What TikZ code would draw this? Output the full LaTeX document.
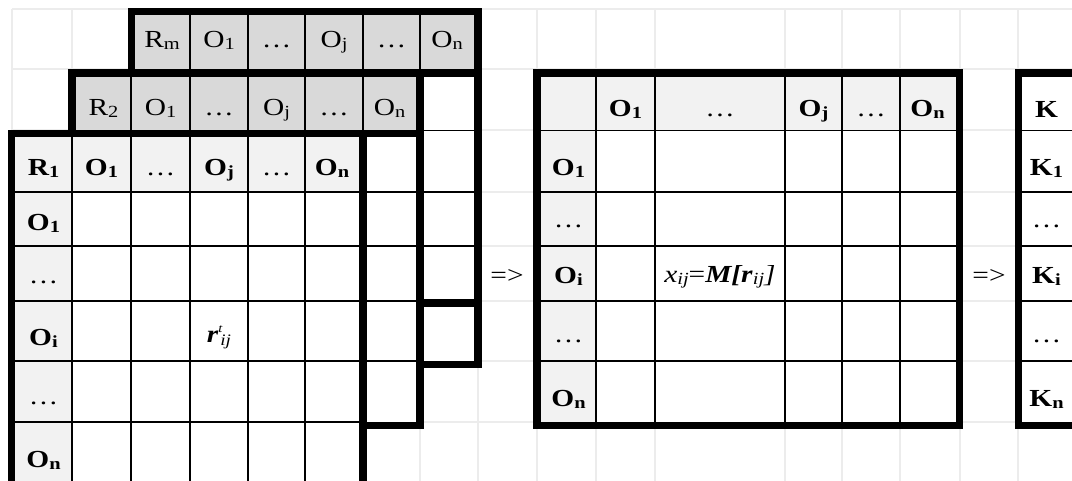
\documentclass[tikz,border=0pt]{standalone}
\usepackage{fontspec}
\setmainfont{Liberation Serif}[FakeStretch=1.2]
\definecolor{darkg}{RGB}{217,217,217}
\definecolor{lightg}{RGB}{242,242,242}
\definecolor{gridc}{RGB}{236,236,236}
\newcommand\sbx[1]{\raisebox{-2.5pt}{\fontsize{17}{19}\selectfont #1}}
\newcommand\dts{{\mdseries …}}
\begin{document}
\begin{tikzpicture}[x=1pt,y=-1pt,
  gridl/.style={draw=gridc,line width=1.4pt},
  thinl/.style={draw=black,line width=1.6pt},
  thickl/.style={draw=black,line width=7.5pt,line cap=rect,line join=miter},
  lbl/.style={anchor=base,inner sep=0pt,font=\fontsize{24.5}{28}\selectfont},
  blbl/.style={anchor=base,inner sep=0pt,font=\fontsize{24.5}{28}\selectfont\bfseries}]
\useasboundingbox (0,0) rectangle (1072,480);
\clip (0,0) rectangle (1072,480);
\fill[white] (0,0) rectangle (1072,480);
% background grid
\foreach \x in {12,72,131,190,248,305,363,420,478,537,596,655,785,842,900,960,1018}
  \draw[gridl] (\x,9) -- (\x,482);
\foreach \y in {9,69,130,192,246,301,361,422}
  \draw[gridl] (12,\y) -- (1074,\y);
% ---------- table Rm ----------
\fill[darkg] (131.5,11.5) rectangle (478,73);
\fill[white] (420,73) rectangle (478,364.5);
\foreach \x in {190,248,305,363,420} \draw[thinl] (\x,11.5) -- (\x,73);
\foreach \y in {130.5,192,246} \draw[thinl] (420,\y) -- (478,\y);
\draw[thickl] (131.5,11.5) rectangle (478,73);
\draw[thickl] (478,73) -- (478,364.5);
\draw[thickl] (420,303) -- (478,303);
\draw[thickl] (420,364.5) -- (478,364.5);
% ---------- table R2 ----------
\fill[white] (72,73) rectangle (420,425.5);
\fill[darkg] (72,73) rectangle (420,133.5);
\foreach \x in {131,190,248,305,363} \draw[thinl] (\x,73) -- (\x,133.5);
\foreach \y in {192,246,301,361} \draw[thinl] (363,\y) -- (420,\y);
\draw[thickl] (72,73) rectangle (420,425.5);
\draw[thickl] (72,133.5) -- (420,133.5);
% ---------- table R1 ----------
\fill[white] (11.5,133.5) rectangle (363,490);
\fill[lightg] (11.5,133.5) rectangle (363,192);
\fill[lightg] (11.5,192) rectangle (72,490);
\foreach \x in {72,131,190,248,305} \draw[thinl] (\x,133.5) -- (\x,490);
\foreach \y in {192,246,301,361,422} \draw[thinl] (11.5,\y) -- (363,\y);
\draw[thickl] (11.5,490) -- (11.5,133.5) -- (363,133.5) -- (363,490);
% ---------- middle matrix ----------
\fill[white] (537,73) rectangle (959.5,425.5);
\fill[lightg] (537,73) rectangle (959.5,130.5);
\fill[lightg] (537,130.5) rectangle (596,425.5);
\foreach \x in {596,655,785,842,900} \draw[thinl] (\x,73) -- (\x,425.5);
\foreach \y in {130.5,192,246,301,361} \draw[thinl] (537,\y) -- (959.5,\y);
\draw[thickl] (537,73) rectangle (959.5,425.5);
% ---------- K column ----------
\fill[white] (1018.5,73) rectangle (1090,425.5);
\foreach \y in {130.5,192,246,301,361} \draw[thinl] (1018.5,\y) -- (1090,\y);
\draw[thickl] (1018.5,73) rectangle (1090,425.5);
% ---------- labels Rm ----------
\node[lbl] (rm0) at (162,47) {R\sbx{m}};
\node[lbl] (rm1) at (219,47) {O\sbx{1}};
\node[lbl] (rm2) at (276.5,47) {…};
\node[lbl] (rm3) at (334,47) {O\sbx{j}};
\node[lbl] (rm4) at (391.5,47) {…};
\node[lbl] (rm5) at (447,47) {O\sbx{n}};
% ---------- labels R2 ----------
\node[lbl] (ra0) at (103.5,115) {R\sbx{2}};
\node[lbl] (ra1) at (160.5,115) {O\sbx{1}};
\node[lbl] (ra2) at (219,115) {…};
\node[lbl] (ra3) at (276.5,115) {O\sbx{j}};
\node[lbl] (ra4) at (334,115) {…};
\node[lbl] (ra5) at (389.5,115) {O\sbx{n}};
% ---------- labels R1 ----------
\node[blbl] (rb0) at (43.5,175) {R\sbx{1}};
\node[blbl] (rb1) at (101.5,175) {O\sbx{1}};
\node[blbl] (rb2) at (160.5,175) {\dts};
\node[blbl] (rb3) at (219,175) {O\sbx{j}};
\node[blbl] (rb4) at (276.5,175) {\dts};
\node[blbl] (rb5) at (332,175) {O\sbx{n}};
\node[blbl] (rc1) at (43.5,230) {O\sbx{1}};
\node[blbl] (rc2) at (43.5,283) {\dts};
\node[blbl] (rc3) at (43.5,345) {O\sbx{i}};
\node[blbl] (rc4) at (43.5,404) {\dts};
\node[blbl] (rc5) at (43.5,467) {O\sbx{n}};
\node[lbl] (rtij) at (219,342) {{\bfseries\itshape r}\raisebox{10pt}{\fontsize{12}{14}\selectfont\itshape t}\kern-2pt\raisebox{-3pt}{\fontsize{16}{18}\selectfont\itshape ij}};
% ---------- middle labels ----------
\node[blbl] (mh1) at (625.5,116) {O\sbx{1}};
\node[blbl] (mh2) at (720,116) {\dts};
\node[blbl] (mh3) at (813.5,116) {O\sbx{j}};
\node[blbl] (mh4) at (871,116) {\dts};
\node[blbl] (mh5) at (927.5,116) {O\sbx{n}};
\node[blbl] (mc1) at (568.5,175) {O\sbx{1}};
\node[blbl] (mc2) at (568.5,227) {\dts};
\node[blbl] (mc3) at (568.5,283) {O\sbx{i}};
\node[blbl] (mc4) at (568.5,342) {\dts};
\node[blbl] (mc5) at (568.5,406) {O\sbx{n}};
\node[lbl] (xij) at (720,282) {\textit{x}\sbx{\itshape ij}=\textbf{\textit{M[r}}\sbx{\itshape ij}\textit{]}};
% ---------- K labels ----------
\node[blbl] (k0) at (1046.5,117) {K};
\node[blbl] (k1) at (1046.5,175) {K\sbx{1}};
\node[blbl] (k2) at (1046.5,227) {\dts};
\node[blbl] (k3) at (1046.5,283) {K\sbx{i}};
\node[blbl] (k4) at (1046.5,342) {\dts};
\node[blbl] (k5) at (1046.5,406) {K\sbx{n}};
% ---------- arrows ----------
\node[lbl] (ar1) at (507,283) {=>};
\node[lbl] (ar2) at (989,283) {=>};
\end{tikzpicture}
\end{document}
